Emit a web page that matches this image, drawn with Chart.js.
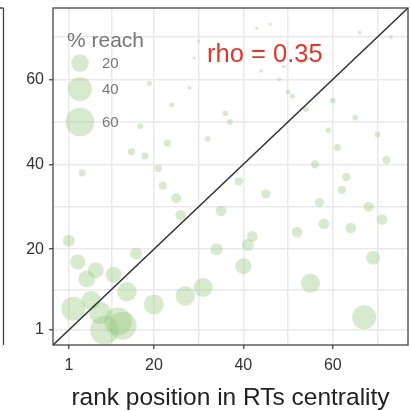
<!DOCTYPE html>
<html>
<head>
<meta charset="utf-8">
<script src="https://cdn.jsdelivr.net/npm/chart.js@4.4.1/dist/chart.umd.min.js"></script>
<style>
  html, body { margin: 0; padding: 0; background: #fff; }
  canvas { display: block; }
</style>
</head>
<body>
<canvas id="grafico" width="410" height="411"></canvas>
<script>
// each account: rank in RTs centrality (x), rank on the y axis, and % reach (bubble size)
const rankRT = [1, 2, 3, 4, 5, 6, 7, 8, 9, 11, 12, 13, 14, 15, 16, 17, 18, 19, 20, 21,
  22, 23, 24, 25, 26, 27, 28, 29, 30, 31, 32, 34, 35, 36, 37, 39, 40, 41, 42, 43,
  44, 45, 46, 48, 49, 50, 51, 52, 53, 54, 55, 56, 57, 58, 59, 60, 61, 62, 63, 64,
  65, 66, 67, 68, 69, 70, 71, 72, 73];
const rankY = [22, 6, 17, 38, 13, 8, 15, 5, 1, 14, 3, 2, 10, 43, 19, 49, 42, 59, 7, 39,
  35, 45, 54, 32, 28, 9, 58, 65, 69, 11, 46, 20, 29, 52, 50, 36, 16, 21, 23, 72,
  62, 33, 73, 60, 63, 57, 56, 24, 64, 53, 12, 40, 31, 26, 48, 55, 44, 34, 37, 25,
  51, 71, 4, 30, 18, 47, 27, 41, 70];
const reachPct = [8, 40, 14, 2, 18, 24, 16, 33, 61, 16, 57, 57, 25, 2, 8, 1, 2, 0.6, 27, 2,
  3, 2, 0.6, 5, 6, 25, 0.2, 0.05, 0.05, 24, 1, 8, 6, 1, 1, 3, 16, 8, 6, 0.05,
  0.2, 4, 0.05, 0.2, 0.2, 0.6, 0.6, 6, 0.2, 1, 24, 3, 4, 6, 1, 1, 2, 3, 3, 6,
  1, 0.2, 40, 5, 12, 1, 6, 3, 0.2];

const majorTicks = [1, 20, 40, 60];
const minorTicks = [10.5, 30, 50, 70];
const legendSizes = [20, 40, 60];
const rhoLabel = 'rho = 0.35';
const rhoAt = { x: 31.9, y: 64.1 };
const axisMin = -2.55;
const axisMax = 76.8;

const fonte = '"Liberation Sans", Arial, sans-serif';
const corBolha = 'rgba(150, 200, 125, 0.38)';

// bubble radius in px grows with the square root of the reach
function raio(pct) {
    return 1.2 + 1.7 * Math.sqrt(pct);
}

const pontos = rankRT.map((x, i) => ({ x: x, y: rankY[i], r: raio(reachPct[i]) }));

const todosTicks = majorTicks.concat(minorTicks).sort((a, b) => a - b);

function eixo(pos, padding, extra) {
    return Object.assign({
        type: 'linear',
        position: pos,
        min: axisMin,
        max: axisMax,
        afterBuildTicks: function (s) {
            s.ticks = todosTicks.map(v => ({ value: v }));
        },
        ticks: {
            autoSkip: false,
            maxRotation: 0,
            padding: padding,
            color: '#333',
            font: { family: fonte, size: 16 },
            callback: v => majorTicks.includes(v) ? String(v) : ''
        },
        grid: {
            color: '#e9e9e9',
            lineWidth: 1.5,
            tickLength: 4,
            tickWidth: 1.3,
            tickColor: c => (c.tick && majorTicks.includes(c.tick.value)) ? '#444' : 'rgba(0,0,0,0)'
        },
        border: { display: false }
    }, extra);
}

// no extra room for the end labels, the frame is set by layout.padding
function semFolga(s) {
    s.paddingTop = 0;
    s.paddingBottom = 0;
    s.paddingLeft = 0;
    s.paddingRight = 0;
}

// panel frame, neighbouring panel edge, rho text and the size legend
const extras = {
    id: 'extras',
    afterDatasetsDraw(chart) {
        const ctx = chart.ctx;
        const a = chart.chartArea;
        const sx = chart.scales.x, sy = chart.scales.y;
        ctx.save();

        ctx.strokeStyle = '#444';
        ctx.lineWidth = 1.3;
        ctx.strokeRect(a.left, a.top, a.right - a.left, a.bottom - a.top);

        ctx.beginPath();
        ctx.moveTo(3.5, a.top);
        ctx.lineTo(3.5, a.bottom);
        ctx.moveTo(0, a.top);
        ctx.lineTo(3.5, a.top);
        ctx.stroke();

        ctx.fillStyle = '#e5352b';
        ctx.font = '25.5px ' + fonte;
        ctx.textBaseline = 'alphabetic';
        ctx.textAlign = 'left';
        ctx.fillText(rhoLabel, sx.getPixelForValue(rhoAt.x), sy.getPixelForValue(rhoAt.y));

        ctx.fillStyle = '#777';
        ctx.font = '21px ' + fonte;
        ctx.fillText('% reach', a.left + 14, a.top + 39);

        const centros = [55, 81, 114];
        ctx.font = '15px ' + fonte;
        ctx.textBaseline = 'middle';
        legendSizes.forEach((v, i) => {
            const cy = a.top + centros[i];
            ctx.beginPath();
            ctx.fillStyle = corBolha;
            ctx.arc(a.left + 27, cy, raio(v), 0, Math.PI * 2);
            ctx.fill();
            ctx.fillStyle = '#777';
            ctx.fillText(String(v), a.left + 49, cy + 1);
        });

        ctx.restore();
    }
};

new Chart(document.getElementById('grafico').getContext('2d'), {
    type: 'bubble',
    data: {
        datasets: [{
            type: 'line',
            data: [{ x: axisMin, y: axisMin }, { x: axisMax, y: axisMax }],
            borderColor: '#333',
            borderWidth: 1.5,
            pointRadius: 0,
            order: 0
        }, {
            data: pontos,
            backgroundColor: corBolha,
            borderWidth: 0,
            order: 1
        }]
    },
    options: {
        responsive: false,
        animation: false,
        devicePixelRatio: 1,
        layout: {
            autoPadding: false,
            padding: { top: 8, right: 2, left: 0, bottom: 0 }
        },
        scales: {
            x: eixo('bottom', 7, {
                afterFit: s => { s.height = 66; semFolga(s); },
                title: {
                    display: true,
                    text: 'rank position in RTs centrality',
                    color: '#222',
                    font: { family: fonte, size: 24.5, lineHeight: 1 },
                    padding: { top: 0, bottom: 1 }
                }
            }),
            y: eixo('left', 5, {
                afterFit: s => { s.width = 53; semFolga(s); }
            })
        },
        plugins: {
            legend: { display: false },
            tooltip: { enabled: false }
        }
    },
    plugins: [extras]
});
</script>
</body>
</html>
